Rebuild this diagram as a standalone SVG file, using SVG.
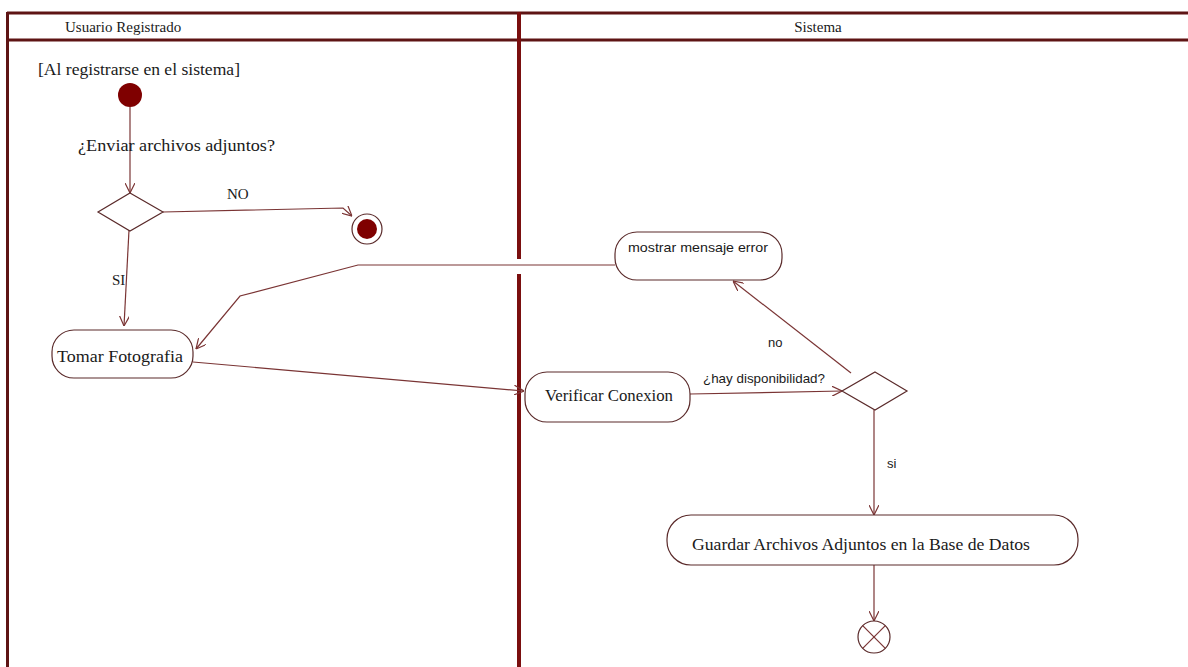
<svg xmlns="http://www.w3.org/2000/svg" width="1188" height="667" viewBox="0 0 1188 667">
  <style>
    .lane { stroke: #5e1414; stroke-width: 3; fill: none; }
    .divider { stroke: #7a0f0f; stroke-width: 4; fill: none; }
    .flow { stroke: #7a3434; stroke-width: 1.2; fill: none; }
    .node { stroke: #5a2a2a; stroke-width: 1.2; fill: #ffffff; }
    .head { font-family: "Liberation Serif", "Times New Roman", serif; font-size: 15px; fill: #1a1a1a; }
    .serif { font-family: "Liberation Serif", "Times New Roman", serif; font-size: 17px; fill: #1a1a1a; }
    .sans { font-family: "Liberation Sans", Arial, sans-serif; font-size: 13px; fill: #1a1a1a; }
  </style>
  <defs>
    <marker id="arrow" viewBox="0 0 10 10" refX="10" refY="5" markerWidth="10" markerHeight="10" markerUnits="userSpaceOnUse" orient="auto">
      <path d="M0,0 L10,5 L0,10" fill="none" stroke="#7a3434" stroke-width="1.2"/>
    </marker>
  </defs>

  <rect width="1188" height="667" fill="#ffffff"/>

  <!-- swimlane frame -->
  <g id="lanes">
    <line class="lane" x1="7" y1="13" x2="1188" y2="13"/>
    <line class="lane" x1="7" y1="40" x2="1188" y2="40"/>
    <line class="lane" x1="7.5" y1="12" x2="7.5" y2="667"/>
    <line class="divider" x1="519" y1="12" x2="519" y2="259"/>
    <line class="divider" x1="519" y1="274" x2="519" y2="667"/>
    <text class="head" x="65" y="32">Usuario Registrado</text>
    <text class="head" x="818" y="32" text-anchor="middle">Sistema</text>
  </g>

  <!-- connectors -->
  <g id="connectors">
    <line class="flow" x1="130" y1="107" x2="130" y2="193" marker-end="url(#arrow)"/>
    <polyline class="flow" points="163,212 343,208 352,216" marker-end="url(#arrow)"/>
    <polyline class="flow" points="129,230 124,326" marker-end="url(#arrow)"/>
    <polyline class="flow" points="615,265 358,265 240,296 196,349" marker-end="url(#arrow)"/>
    <line class="flow" x1="193" y1="362" x2="524" y2="391" marker-end="url(#arrow)"/>
    <line class="flow" x1="690" y1="394" x2="842" y2="391" marker-end="url(#arrow)"/>
    <line class="flow" x1="851" y1="373" x2="733" y2="281" marker-end="url(#arrow)"/>
    <line class="flow" x1="874" y1="410" x2="874" y2="515" marker-end="url(#arrow)"/>
    <line class="flow" x1="874" y1="565" x2="874" y2="621" marker-end="url(#arrow)"/>
    <text class="serif" x="78" y="151" textLength="197" lengthAdjust="spacingAndGlyphs">¿Enviar archivos adjuntos?</text>
    <text class="head" x="227" y="199">NO</text>
    <text class="head" x="112" y="285">SI</text>
    <text class="sans" x="703" y="383" textLength="122" lengthAdjust="spacingAndGlyphs">¿hay disponibilidad?</text>
    <text class="sans" x="768" y="347">no</text>
    <text class="sans" x="887" y="468">si</text>
  </g>

  <g id="start">
    <text class="serif" x="38" y="75" textLength="202" lengthAdjust="spacingAndGlyphs">[Al registrarse en el sistema]</text>
    <circle cx="130" cy="95" r="12" fill="#7f0000"/>
  </g>

  <g id="decision-adjuntos">
    <polygon class="node" points="130,193 163,212 130,231 98,212"/>
  </g>

  <g id="end-no">
    <circle cx="367" cy="229" r="15" class="node"/>
    <circle cx="367" cy="229" r="10" fill="#7f0000"/>
  </g>

  <g id="tomar-fotografia">
    <rect class="node" x="52" y="330" width="141" height="48" rx="22" ry="22"/>
    <text class="serif" x="57" y="362" textLength="126" lengthAdjust="spacingAndGlyphs">Tomar Fotografia</text>
  </g>

  <g id="mostrar-error">
    <rect class="node" x="615" y="232" width="167" height="48" rx="22" ry="22"/>
    <text class="sans" x="628" y="252" textLength="140" lengthAdjust="spacingAndGlyphs">mostrar mensaje error</text>
  </g>

  <g id="verificar-conexion">
    <rect class="node" x="525" y="372" width="165" height="50" rx="22" ry="22"/>
    <text class="serif" x="545" y="401" textLength="128" lengthAdjust="spacingAndGlyphs">Verificar Conexion</text>
  </g>

  <g id="decision-disponibilidad">
    <polygon class="node" points="875,372 907,391 875,410 842,391"/>
  </g>

  <g id="guardar-archivos">
    <rect class="node" x="667" y="515" width="411" height="50" rx="24" ry="24"/>
    <text class="serif" x="692" y="550" textLength="338" lengthAdjust="spacingAndGlyphs">Guardar Archivos Adjuntos en la Base de Datos</text>
  </g>

  <g id="flow-final">
    <circle class="node" cx="874" cy="637" r="16"/>
    <line class="flow" x1="862.7" y1="625.7" x2="885.3" y2="648.3"/>
    <line class="flow" x1="885.3" y1="625.7" x2="862.7" y2="648.3"/>
  </g>
</svg>
